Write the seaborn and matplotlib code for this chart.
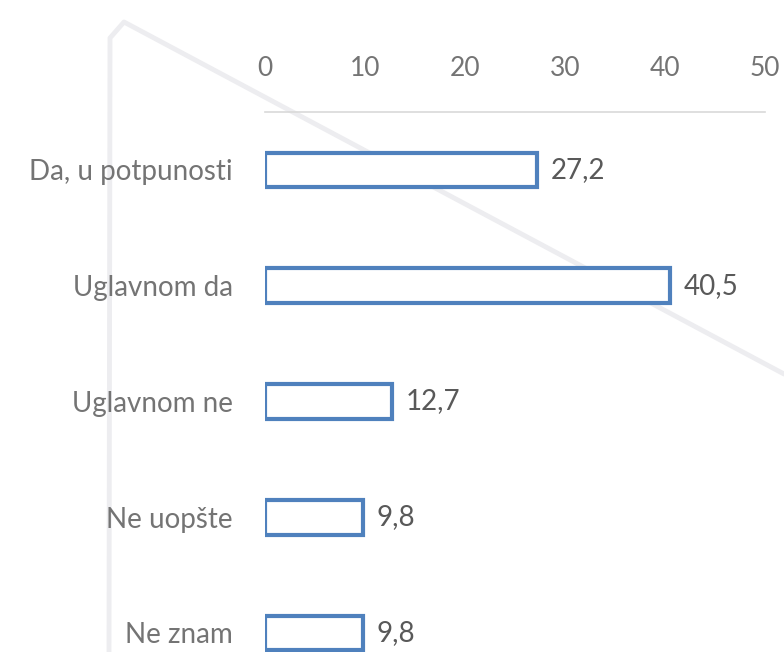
import matplotlib
matplotlib.use("Agg")
import matplotlib.pyplot as plt
import seaborn as sns
import pandas as pd
from matplotlib.lines import Line2D

categories = ["Da, u potpunosti", "Uglavnom da", "Uglavnom ne", "Ne uopšte", "Ne znam"]
values = [27.2, 40.5, 12.7, 9.8, 9.8]
x_ticks = [0, 10, 20, 30, 40, 50]

df = pd.DataFrame({"odgovor": categories, "procenat": values})

sns.set_style("white")
plt.rcParams["font.family"] = ["Lato", "DejaVu Sans"]

label_grey = "#747474"
value_grey = "#595959"
bar_blue = "#4F81BD"

fig = plt.figure(figsize=(7.84, 6.52), dpi=100)

# faint watermark shape in the background
W, H = 784, 652
wm = Line2D([109 / W, 110 / W, 124 / W, 784 / W],
            [1 - 652 / H, 1 - 38 / H, 1 - 22 / H, 1 - 374 / H],
            transform=fig.transFigure, color="#ededf0", lw=3.5,
            solid_joinstyle="round", zorder=0)
fig.add_artist(wm)

ax = fig.add_axes([265 / W, 0, 500 / W, 1 - 112 / H])
ax.patch.set_alpha(0)

sns.barplot(data=df, x="procenat", y="odgovor", orient="h", ax=ax,
            color="white", edgecolor=bar_blue, linewidth=3.0, width=0.3)

ax.set_xlim(0, 50)
ax.set_ylim((652 - 170) / 115.75, -0.5)
ax.xaxis.tick_top()
ax.set_xticks(x_ticks)
ax.set_xticklabels([str(t) for t in x_ticks])
ax.tick_params(axis="x", length=0, pad=22, labelsize=19, labelcolor=label_grey)
ax.tick_params(axis="y", length=0, pad=23, labelsize=20, labelcolor=label_grey)
ax.set_xlabel("")
ax.set_ylabel("")

for s in ["bottom", "left", "right"]:
    ax.spines[s].set_visible(False)
ax.spines["top"].set_color("#d9d9d9")
ax.spines["top"].set_linewidth(1.2)

for i, v in enumerate(values):
    ax.text(v + 1.4, i, str(v).replace(".", ","), va="center", ha="left",
            fontsize=20, color=value_grey)

fig.savefig("out.png", dpi=100)
